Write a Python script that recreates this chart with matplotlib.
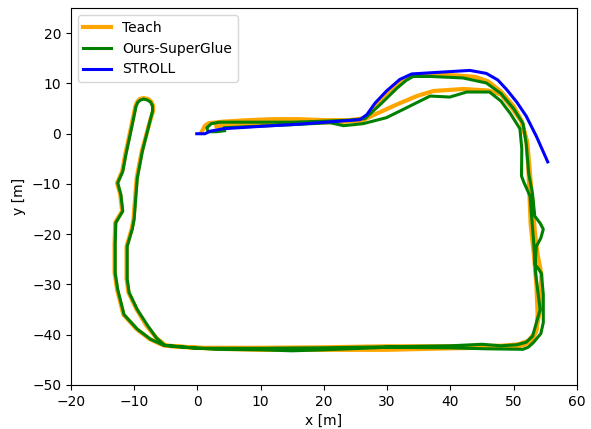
import matplotlib
matplotlib.use("Agg")
import matplotlib.pyplot as plt

# Teach trajectory (orange)
teach_x = [0.6, 0.9, 1.2, 1.8, 4, 8, 12, 16, 20, 24, 26, 27, 28.2, 30, 32, 33, 34, 35.5, 37, 41, 44, 46, 48, 50, 51.3,
           52, 52.3, 52.5, 52.7, 53.2, 53.6, 53.8, 53.6, 53.1, 52.5, 51.5, 50, 45, 40, 30, 20, 10, 3, -3, -5,
           -6.5, -8, -9.6, -10.9, -11.2, -11.2, -10.4, -10.1, -9.8, -9.6, -8.8, -7.5, -7.0, -7.0, -7.3, -7.8, -8.5, -9.1, -9.5, -9.8,
           -10.4, -11.4, -11.9, -12.7, -12.2, -11.9, -13.0, -13.1, -13.1, -12.7, -11.7, -9.6, -7.5, -5.4,
           0, 10, 20, 30, 40, 48, 50.8, 52.3, 53.5, 54.2, 54.4, 53.8, 53.4, 53.0, 52.6, 52.2, 51.2, 49.5, 48, 46,
           42, 37.3, 34.7, 31.5, 28, 26, 22, 15, 8, 3]
teach_y = [0.2, 0.9, 1.6, 2.1, 2.4, 2.7, 2.9, 2.9, 2.7, 2.7, 3.0, 3.6, 5.8, 8.2, 10.2, 11.0, 11.5, 11.8, 11.8, 11.6, 11.3, 10.4, 8.4, 5.5, 2.5,
           -1, -6, -12, -18, -24, -30, -36, -39.2, -40.6, -41.5, -42.1, -42.4, -42.6, -42.7, -43.0, -43.0, -43.0, -42.8, -42.4, -42.2,
           -40.6, -38.3, -35, -31.6, -28.9, -22.4, -19, -17, -12, -8.8, -3.5, 2.5, 4.5, 5.6, 6.4, 6.9, 7.1, 6.9, 6.4, 5.5,
           1.8, -4.1, -7.5, -9.8, -12.1, -15.4, -17.7, -22, -27.7, -31, -36, -38.9, -40.9, -42.1,
           -42.6, -42.6, -42.5, -42.3, -42.3, -42.2, -41.9, -41.2, -39.5, -35, -28, -24, -20, -14, -8, -2, 2.5, 5.5, 7.8, 8.6,
           8.9, 8.5, 7.5, 5.8, 3.8, 2.6, 2.3, 2.1, 1.9, 1.5]

# Ours-SuperGlue trajectory (green)
ours_x = [4.3, 3.0, 1.7, 1.5, 2.2, 3.5, 6, 10, 15, 20, 24, 26.5, 28.9, 31.5, 33, 34.1, 36.8, 42, 45.7, 48, 50, 51.5,
          52, 52.4, 53.0, 53.35, 54.2, 54.7, 54.3, 53.6, 53.4, 54.0, 54.4, 54.7, 54.7, 54.3, 53.1, 52.3, 51.5, 45.7, 40, 30, 20, 15, 10, 3, -3, -5.2,
          -6.5, -7.8, -9.5, -10.8, -11.1, -11.1, -10.3, -10.0, -9.7, -9.5, -8.7, -7.5, -7.1, -7.1, -7.4, -7.9, -8.5, -9.0, -9.4, -9.7,
          -10.3, -11.3, -11.8, -12.6, -12.1, -11.8, -12.9, -13.0, -13.0, -12.6, -11.6, -9.5, -7.4, -5.3,
          0, 10, 20, 30, 40, 45, 48, 50.5, 52.0, 53.0, 54.2, 53.5, 53.2, 52.6, 51.6, 51.25, 51.3, 51.0, 49.5, 48, 46.2,
          42.6, 39.9, 36.8, 33.6, 29.9, 26.2, 23.1, 21, 15, 8, 4.3]
ours_y = [0.6, 0.4, 0.4, 1.2, 2.0, 2.3, 2.3, 2.3, 2.3, 2.5, 2.7, 3.0, 5.8, 9.0, 10.6, 11.4, 11.4, 11.1, 10.1, 8.0, 5.0, 2.0,
          -2, -8, -12, -16.4, -17.8, -19, -20.8, -22.4, -26, -27.0, -27.8, -32, -37.6, -39.8, -41.6, -42.5, -42.9, -42.8, -42.6, -42.5, -43.0, -43.2, -43.0, -42.9, -42.4, -42.1,
          -40.6, -38.3, -35, -31.6, -28.9, -22.4, -19, -17, -12, -8.8, -3.5, 2.5, 4.5, 5.5, 6.3, 6.7, 6.9, 6.7, 6.3, 5.5,
          1.8, -4.1, -7.5, -9.8, -12.1, -15.4, -17.7, -22, -27.7, -31, -36, -38.9, -40.9, -42.1,
          -42.7, -42.7, -42.6, -42.4, -42.2, -41.9, -42.2, -42.0, -41.5, -40.3, -35, -28, -22, -12.4, -9.6, -8.4, -3, 1, 4, 6.5, 8.3,
          8.3, 7.3, 7.5, 5.5, 3.2, 2.0, 1.6, 2.2, 1.8, 1.4, 1.2]

# STROLL trajectory (blue)
stroll_x = [-0.1, 1.2, 2.0, 4.1, 10.4, 16, 22.5, 25.7, 26.8, 28.1, 29.9, 32, 33.9, 37.8, 43.1, 45.7, 47.5, 48.9,
            50.5, 52, 53.6, 55.4]
stroll_y = [0.0, 0.0, 0.5, 1.0, 1.5, 1.9, 2.5, 2.8, 3.8, 6.1, 8.5, 10.8, 11.9, 12.2, 12.6, 12.0, 10.7, 8.8,
            6.3, 3.5, -0.5, -5.6]

fig = plt.figure(figsize=(5.91, 4.29), dpi=100)
ax = fig.add_axes([0.120, 0.1026, 0.856, 0.8785])
ax.plot(teach_x, teach_y, color="orange", lw=3.0, label="Teach", solid_joinstyle="round")
ax.plot(ours_x, ours_y, color="green", lw=2.2, label="Ours-SuperGlue", solid_joinstyle="round")
ax.plot(stroll_x, stroll_y, color="blue", lw=2.2, label="STROLL", solid_joinstyle="round")
ax.set_xlim(-20, 60)
ax.set_ylim(-50, 25)
ax.set_xticks(range(-20, 61, 10))
ax.set_yticks(range(-50, 21, 10))
ax.set_xlabel("x [m]")
ax.set_ylabel("y [m]")
ax.legend(loc="upper left")
fig.savefig("out.png", dpi=100)
